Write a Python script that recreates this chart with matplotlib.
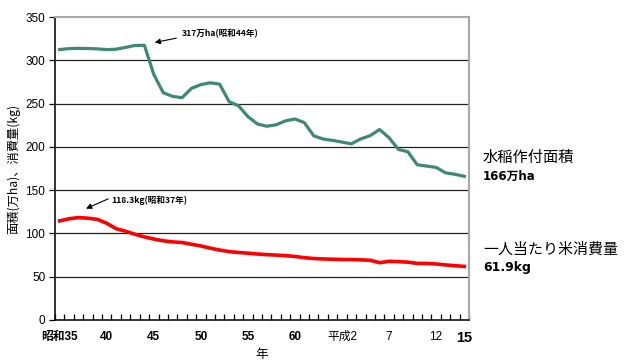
import matplotlib
matplotlib.use("Agg")
import matplotlib.pyplot as plt
import numpy as np

plt.rcParams['font.family'] = ['Liberation Sans', 'Noto Sans CJK JP', 'DejaVu Sans']

# 1960 (昭和35) .. 2003 (平成15)
years = list(range(1960, 2004))

# 水稲作付面積 (万ha)
paddy_area = [312.4, 313.5, 313.8, 313.6, 313.2, 312.3, 312.8, 314.9, 317.1, 317.3,
              283.6, 262.6, 258.3, 256.8, 267.5, 271.9, 274.0, 272.4, 252.2, 247.5,
              235.0, 226.5, 223.8, 225.5, 230.0, 232.2, 228.0, 212.8, 209.0, 207.5,
              205.5, 203.5, 209.2, 213.0, 220.0, 210.6, 197.0, 194.4, 179.3, 177.8,
              176.3, 170.0, 168.3, 166.0]

# 一人当たり米消費量 (kg)
rice_per_capita = [114.5, 117.0, 118.3, 117.6, 116.2, 111.7, 105.5, 102.5, 99.0, 96.0,
                   93.5, 91.5, 90.2, 89.5, 87.5, 85.5, 83.0, 80.8, 79.0, 78.0,
                   77.2, 76.2, 75.5, 75.0, 74.4, 73.4, 72.0, 71.0, 70.5, 70.2,
                   69.9, 69.8, 69.5, 69.0, 66.2, 67.8, 67.4, 66.8, 65.4, 65.3,
                   64.7, 63.6, 62.7, 61.9]

tick_years = [1960, 1965, 1970, 1975, 1980, 1985, 1990, 1995, 2000, 2003]
tick_labels = ["昭和35", "40", "45", "50", "55", "60", "平成2", "7", "12", "15"]
y_ticks = [0, 50, 100, 150, 200, 250, 300, 350]

fig = plt.figure(figsize=(6.24, 3.61), dpi=100)
ax = fig.add_axes([55 / 624, 1 - 320 / 361, 414 / 624, 303 / 361])

x = np.arange(len(years))
ax.plot(x, paddy_area, color="#3d8a74", lw=2.3, solid_joinstyle="round", zorder=3)
ax.plot(x, rice_per_capita, color="#ff0000", lw=2.6, solid_joinstyle="round", zorder=3)

ax.set_xlim(-0.5, len(years) - 0.5)
ax.set_ylim(0, 350)

# horizontal grid lines
for v in y_ticks[1:-1]:
    ax.axhline(v, color="#222222", lw=0.9, zorder=1)

ax.set_yticks(y_ticks)
ax.set_yticklabels([str(v) for v in y_ticks], fontsize=8.5)
ax.tick_params(axis="y", direction="out", length=4, width=0.9, pad=3)

tick_pos = [years.index(y) for y in tick_years]
ax.set_xticks(tick_pos)
ax.set_xticklabels(tick_labels)
ax.tick_params(axis="x", which="major", length=0, pad=8)
for lbl, txt in zip(ax.get_xticklabels(), tick_labels):
    if txt == "15":
        lbl.set_fontsize(10.5)
        lbl.set_fontweight("bold")
    elif txt in ("平成2", "7", "12"):
        lbl.set_fontsize(8.5)
    else:
        lbl.set_fontsize(8.5)
        lbl.set_fontweight("bold")
ax.set_xticks(np.arange(-0.5, len(years)), minor=True)
ax.tick_params(axis="x", which="minor", direction="in", length=4, width=0.9)

for side in ("left", "bottom"):
    ax.spines[side].set_color("#111111")
    ax.spines[side].set_linewidth(1.2)
for side in ("top", "right"):
    ax.spines[side].set_color("#a8a8a8")
    ax.spines[side].set_linewidth(1.5)

ax.set_ylabel("面積(万ha)、消費量(kg)", fontsize=8.8, labelpad=4,
              family=["Noto Sans CJK JP", "DejaVu Sans"])
ax.set_xlabel("年", fontsize=9, labelpad=2, family=["Noto Sans CJK JP"])

# peak annotations
peak_a = int(np.argmax(paddy_area))
peak_c = int(np.argmax(rice_per_capita))
arrow = dict(arrowstyle="-|>", color="black", lw=0.8, mutation_scale=8,
             shrinkA=0, shrinkB=0)
ax.annotate("", xy=(peak_a + 1.1, paddy_area[peak_a] + 3.2),
            xytext=(peak_a + 3.4, paddy_area[peak_a] + 8.3), arrowprops=arrow)
ax.text(peak_a + 3.95, paddy_area[peak_a] + 14, f"{paddy_area[peak_a]:.0f}万ha(昭和44年)",
        fontsize=6.2, fontweight="bold", ha="left", va="center",
        family=["Noto Sans CJK JP", "DejaVu Sans"])
ax.annotate("", xy=(peak_c + 0.8, rice_per_capita[peak_c] + 10.4),
            xytext=(peak_c + 3.15, rice_per_capita[peak_c] + 21.6), arrowprops=arrow)
ax.text(peak_c + 3.5, rice_per_capita[peak_c] + 20.4, f"{rice_per_capita[peak_c]:.1f}kg(昭和37年)",
        fontsize=6.2, fontweight="bold", ha="left", va="center",
        family=["Noto Sans CJK JP", "DejaVu Sans"])

# series labels on the right
fx = 483 / 624
fig.text(fx, 1 - 157 / 361, "水稲作付面積", fontsize=11, ha="left", va="center",
         family=["Noto Sans CJK JP"])
fig.text(fx, 1 - 176 / 361, f"{paddy_area[-1]:.0f}万ha", fontsize=8.5, fontweight="bold",
         ha="left", va="center", family=["DejaVu Sans", "Noto Sans CJK JP"])
fig.text(fx, 1 - 250 / 361, "一人当たり米消費量", fontsize=10.8, ha="left", va="center",
         family=["Noto Sans CJK JP"])
fig.text(fx, 1 - 267 / 361, f"{rice_per_capita[-1]:.1f}kg", fontsize=9, fontweight="bold",
         ha="left", va="center", family=["DejaVu Sans"])

fig.savefig("out.png", dpi=100)
